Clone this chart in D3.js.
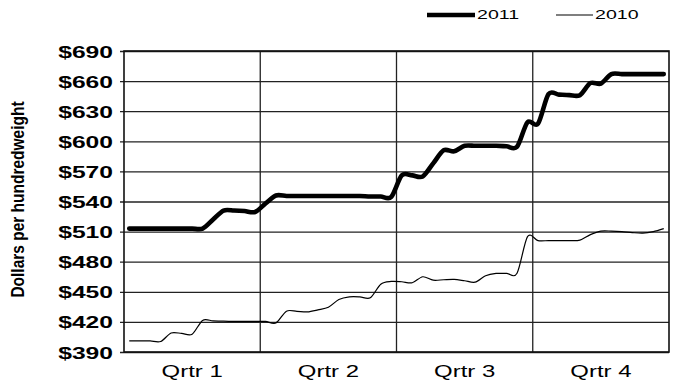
<!DOCTYPE html>
<html>
<head>
<meta charset="utf-8">
<script src="https://cdn.jsdelivr.net/npm/d3@7"></script>
<style>
  html, body { margin: 0; padding: 0; background: #fff; }
  svg { display: block; font-family: "Liberation Sans", Arial, sans-serif; }
</style>
</head>
<body>
<svg id="chart" width="674" height="384"></svg>
<script>
// ---- data (weekly prices, dollars per hundredweight) ----
const quarters = ["Qrtr 1", "Qrtr 2", "Qrtr 3", "Qrtr 4"];
const yTicks = [390, 420, 450, 480, 510, 540, 570, 600, 630, 660, 690];
const seriesNames = ["2011", "2010"];
const values2011 = [
  513, 513, 513, 513, 513, 513, 513, 513, 522, 531,
  531, 530.5, 529.5, 538, 546, 545.5, 545.5, 545.5, 545.5, 545.5,
  545.5, 545.5, 545.5, 545, 545, 544.5, 566, 566, 565, 578,
  591, 590, 595.5, 595.5, 595.5, 595.5, 595, 594.5, 619, 617.5,
  647, 646.5, 646, 646, 658, 657.5, 667, 667, 667, 667,
  667, 667
];
const values2010 = [
  401, 401, 401, 400.5, 409, 408.5, 407.7, 421.5, 421, 420.7,
  420.5, 420.5, 420.5, 420.5, 419, 430.7, 430.5, 430, 432, 434.6,
  442.3, 445, 445, 444, 457.6, 460.3, 460, 459, 465, 461.6,
  462, 462.3, 461, 459.6, 466, 468.3, 468.3, 468.5, 505, 501,
  501, 501, 501, 501.5, 507, 510.5, 510.5, 510, 509, 508.5,
  510, 513
];

// ---- layout ----
const svg = d3.select("#chart");
const pL = 124, pR = 669, pT = 51, pB = 352;
const n = values2011.length;
const step = (pR - pL) / n;
const stretch = 1.45; // horizontal text stretch of the original

const x = d3.scaleLinear().domain([0, n - 1]).range([pL + step / 2, pR - step / 2]);
const xq = d3.scaleBand().domain(quarters).range([pL, pR]).padding(0);
const y = d3.scaleLinear().domain([390, 690]).range([pB, pT]);

// horizontal grid + y ticks
const yAxis = d3.axisLeft(y).tickValues(yTicks).tickSize(-(pR - pL)).tickSizeOuter(0).tickFormat(d => "$" + d);
const gy = svg.append("g").attr("transform", `translate(${pL},0)`).call(yAxis);
gy.select(".domain").remove();
gy.selectAll(".tick line").attr("x1", -4).attr("stroke", "#222").attr("stroke-width", 1.3);
gy.selectAll(".tick text")
  .attr("x", null).attr("dy", null)
  .attr("dominant-baseline", "central")
  .attr("text-anchor", "end")
  .attr("transform", `translate(-11,0) scale(${stretch},1)`)
  .attr("font-size", 17).attr("font-weight", "bold").attr("fill", "#000")
  .attr("font-family", "Liberation Sans, Arial, sans-serif");

// vertical quarter gridlines
svg.append("g").selectAll("line")
  .data(quarters.slice(1))
  .join("line")
  .attr("x1", d => xq(d)).attr("x2", d => xq(d))
  .attr("y1", pT).attr("y2", pB)
  .attr("stroke", "#222").attr("stroke-width", 1.3);

// plot border
svg.append("rect")
  .attr("x", pL).attr("y", pT)
  .attr("width", pR - pL).attr("height", pB - pT)
  .attr("fill", "none").attr("stroke", "#111").attr("stroke-width", 1.6);

// quarter labels
svg.append("g").selectAll("text")
  .data(quarters)
  .join("text")
  .attr("transform", d => `translate(${xq(d) + xq.bandwidth() / 2},371) scale(${stretch},1)`)
  .attr("text-anchor", "middle")
  .attr("dominant-baseline", "central")
  .attr("font-size", 16.5)
  .attr("fill", "#000")
  .text(d => d);

// y axis title
svg.append("text")
  .attr("transform", `translate(18,${(pT + pB) / 2 - 2}) rotate(-90) scale(1,1.2)`)
  .attr("text-anchor", "middle")
  .attr("dominant-baseline", "central")
  .attr("font-size", 15.5)
  .attr("font-weight", "bold")
  .attr("fill", "#000")
  .text("Dollars per hundredweight");

// lines
const line = d3.line()
  .x((d, i) => x(i))
  .y(d => y(d))
  .curve(d3.curveCardinal.tension(0.1));

svg.append("path")
  .datum(values2010)
  .attr("d", line)
  .attr("fill", "none")
  .attr("stroke", "#000")
  .attr("stroke-width", 1.2);

svg.append("path")
  .datum(values2011)
  .attr("d", line)
  .attr("fill", "none")
  .attr("stroke", "#000")
  .attr("stroke-width", 4.6)
  .attr("stroke-linecap", "round")
  .attr("stroke-linejoin", "round");

// legend
const legendItems = [
  { name: seriesNames[0], x1: 427, x2: 475, w: 4.6 },
  { name: seriesNames[1], x1: 556, x2: 593, w: 1.2 }
];
const lg = svg.append("g");
legendItems.forEach(it => {
  lg.append("line")
    .attr("x1", it.x1).attr("x2", it.x2).attr("y1", 15).attr("y2", 15)
    .attr("stroke", "#000").attr("stroke-width", it.w);
  lg.append("text")
    .attr("transform", `translate(${it.x2 + 2},15) scale(${stretch},1)`)
    .attr("dominant-baseline", "central")
    .attr("font-size", 13.5)
    .attr("fill", "#000")
    .text(it.name);
});
</script>
</body>
</html>
